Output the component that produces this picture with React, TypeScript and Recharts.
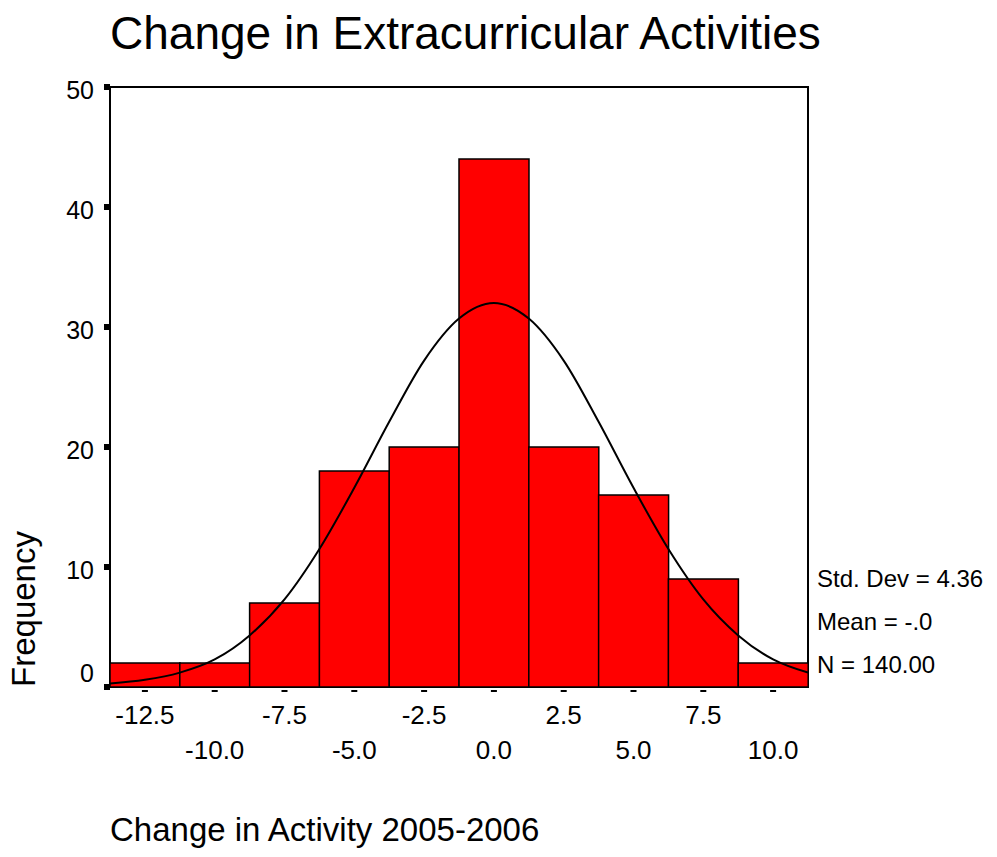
import React from 'react'
import {
  ComposedChart,
  Bar,
  Line,
  XAxis,
  YAxis,
  ReferenceArea,
} from 'recharts'

// histogram bins (bin centre labels) and frequencies
const binLabels = ['-12.5', '-10.0', '-7.5', '-5.0', '-2.5', '0.0', '2.5', '5.0', '7.5', '10.0']
const frequencies = [2, 2, 7, 18, 20, 44, 20, 16, 9, 2]

// normal curve
const curveX = [
  -13.75, -12.5, -11.25, -10, -8.75, -7.5, -6.25, -5, -3.75, -2.5, -1.25, 0,
  1.25, 2.5, 3.75, 5, 6.25, 7.5, 8.75, 10, 11.25,
]
const curveY = [
  0.3, 0.6, 1.2, 2.3, 4.3, 7.3, 11.5, 16.6, 22.1, 27.2, 30.7, 32.0,
  30.7, 27.2, 22.1, 16.6, 11.5, 7.3, 4.3, 2.3, 1.2,
]

const yTicks = [0, 10, 20, 30, 40, 50]
const statLines = ['Std. Dev = 4.36', 'Mean = -.0', 'N = 140.00']

const W = 981
const H = 841
const PLOT_LEFT = 102
const PLOT_TOP = 79
const PLOT_RIGHT = 800
const PLOT_BOTTOM = 679
const FONT = '"Liberation Sans", Arial, sans-serif'

const binData = binLabels.map((bin, i) => ({ bin, count: frequencies[i] }))
const curveData = curveX.map((x, i) => ({ x, y: curveY[i] }))

const XTick = (props: any) => {
  const { x, payload } = props
  const idx = payload.index ?? props.index ?? 0
  const row = idx % 2 === 0 ? 37 : 72
  return (
    <g>
      <rect x={x - 3} y={PLOT_BOTTOM + 3} width={6} height={2} fill="#000" />
      <text
        x={x}
        y={PLOT_BOTTOM + row}
        textAnchor="middle"
        fontFamily={FONT}
        fontSize={26}
        fill="#000"
      >
        {payload.value}
      </text>
    </g>
  )
}

const YTick = (props: any) => {
  const { y, payload } = props
  const dy = payload.value === 0 ? -5 : 12
  return (
    <g>
      <rect x={PLOT_LEFT - 6} y={y - 3} width={6} height={6} fill="#000" />
      <text
        x={PLOT_LEFT - 16}
        y={y + dy}
        textAnchor="end"
        fontFamily={FONT}
        fontSize={25}
        fill="#000"
      >
        {payload.value}
      </text>
    </g>
  )
}

export default function App() {
  return (
    <div style={{ position: 'relative', width: W, height: H, background: '#fff' }}>
      <ComposedChart
        width={W}
        height={H}
        data={binData}
        barCategoryGap={0}
        margin={{ top: PLOT_TOP, right: W - PLOT_RIGHT, left: PLOT_LEFT - 40, bottom: H - PLOT_BOTTOM - 80 }}
      >
        <XAxis
          xAxisId="bins"
          dataKey="bin"
          type="category"
          interval={0}
          height={80}
          axisLine={false}
          tickLine={false}
          tick={<XTick />}
        />
        <XAxis
          xAxisId="curve"
          dataKey="x"
          type="number"
          domain={[-13.75, 11.25]}
          allowDataOverflow
          hide
        />
        <YAxis
          width={40}
          domain={[0, 50]}
          ticks={yTicks}
          allowDataOverflow
          axisLine={false}
          tickLine={false}
          tick={<YTick />}
        />
        <Bar
          xAxisId="bins"
          dataKey="count"
          fill="#ff0000"
          stroke="#000"
          strokeWidth={1.5}
          isAnimationActive={false}
        />
        <Line
          xAxisId="curve"
          data={curveData}
          dataKey="y"
          type="monotone"
          stroke="#000"
          strokeWidth={2}
          dot={false}
          isAnimationActive={false}
        />
        <ReferenceArea
          xAxisId="curve"
          x1={-13.75}
          x2={11.25}
          y1={0}
          y2={50}
          fill="none"
          stroke="#000"
          strokeWidth={2}
          ifOverflow="visible"
        />
      </ComposedChart>
      <svg
        width={W}
        height={H}
        style={{ position: 'absolute', left: 0, top: 0, pointerEvents: 'none' }}
      >
        <text x={PLOT_LEFT} y={41} fontFamily={FONT} fontSize={46} fill="#000">
          Change in Extracurricular Activities
        </text>
        <text
          x={27}
          y={601}
          transform="rotate(-90 27 601)"
          textAnchor="middle"
          fontFamily={FONT}
          fontSize={33}
          fill="#000"
        >
          Frequency
        </text>
        <text x={PLOT_LEFT} y={833} fontFamily={FONT} fontSize={33} fill="#000">
          Change in Activity 2005-2006
        </text>
        {statLines.map((s, i) => (
          <text
            key={s}
            x={809}
            y={579 + i * 43}
            fontFamily={FONT}
            fontSize={24}
            fill="#000"
          >
            {s}
          </text>
        ))}
      </svg>
    </div>
  )
}
